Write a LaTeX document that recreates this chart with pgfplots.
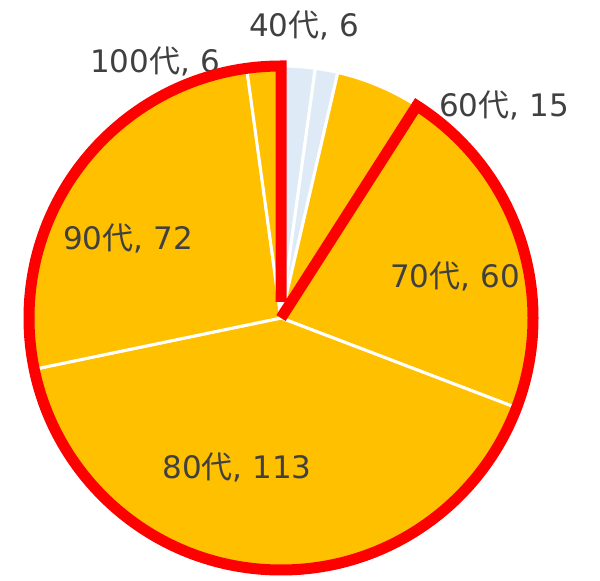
\documentclass[border=0pt]{standalone}
\usepackage{fontspec}
\setmainfont{DejaVu Sans}
\newfontfamily\cjk{Noto Sans CJK JP}
\usepackage{pgfplots}
\pgfplotsset{compat=1.18}
\usepackage{pgfplotstable}
\definecolor{gold}{HTML}{FFC000}
\definecolor{lblue}{HTML}{DEEBF7}
\definecolor{txt}{HTML}{404040}

% name = age decade (代), value = count
\pgfplotstableread{
name value col lx ly show
40 6 lblue 23 281 1
50 4 lblue 0 0 0
60 15 gold 223 201 1
70 60 gold 174 30 1
80 113 gold -44 -161 1
90 72 gold -153 68 1
100 6 gold -126 245 1
}\pietable

\def\pietotal{0}
\pgfplotsforeachungrouped \i in {0,...,6}{%
  \pgfplotstablegetelem{\i}{value}\of\pietable
  \pgfmathsetmacro{\pietotal}{\pietotal+\pgfplotsretval}%
}
\def\piecum{0}
\pgfplotsforeachungrouped \i in {0,...,6}{%
  \pgfplotstablegetelem{\i}{value}\of\pietable
  \let\pieval\pgfplotsretval
  \expandafter\xdef\csname sV\i\endcsname{\pieval}%
  \pgfmathsetmacro{\pa}{90-\piecum/\pietotal*360}%
  \pgfmathsetmacro{\piecum}{\piecum+\pieval}%
  \pgfmathsetmacro{\pb}{90-\piecum/\pietotal*360}%
  \expandafter\xdef\csname sA\i\endcsname{\pa}%
  \expandafter\xdef\csname sB\i\endcsname{\pb}%
  \pgfplotstablegetelem{\i}{col}\of\pietable
  \expandafter\xdef\csname sC\i\endcsname{\pgfplotsretval}%
  \pgfplotstablegetelem{\i}{name}\of\pietable
  \expandafter\xdef\csname sN\i\endcsname{\pgfplotsretval}%
  \pgfplotstablegetelem{\i}{lx}\of\pietable
  \expandafter\xdef\csname sX\i\endcsname{\pgfplotsretval}%
  \pgfplotstablegetelem{\i}{ly}\of\pietable
  \expandafter\xdef\csname sY\i\endcsname{\pgfplotsretval}%
  \pgfplotstablegetelem{\i}{show}\of\pietable
  \expandafter\xdef\csname sS\i\endcsname{\pgfplotsretval}%
}
\pgfmathsetmacro{\redend}{\csname sA3\endcsname+360}
\def\R{252}

\begin{document}
\begin{tikzpicture}
\begin{axis}[
  hide axis,
  x=1pt, y=1pt,
  xmin=-281, xmax=319, ymin=-263, ymax=318,
  clip=false,
]
\addplot[draw=none, mark=none] coordinates {(-281,-263) (319,318)};
\pgfplotsinvokeforeach{0,...,6}{
  \edef\temp{\noexpand\fill[fill=\csname sC#1\endcsname, draw=white, line width=3pt, line join=round]
    (axis cs:0,0) -- ++(\csname sA#1\endcsname:\R pt)
    arc[start angle=\csname sA#1\endcsname, end angle=\csname sB#1\endcsname, radius=\R pt] -- cycle;}
  \temp
}
\pgfplotsinvokeforeach{0,...,6}{
  \ifnum\csname sS#1\endcsname=1
  \edef\temp{\noexpand\node[anchor=base, text=txt, inner sep=0pt,
     font=\noexpand\fontsize{31}{37}\noexpand\selectfont]
     at (axis cs:\csname sX#1\endcsname,\csname sY#1\endcsname)
     {\csname sN#1\endcsname{\noexpand\cjk 代}, \csname sV#1\endcsname};}
  \temp
  \fi
}
\edef\temp{\noexpand\draw[red, line width=11pt, line join=miter, line cap=butt]
  (axis cs:0,16) -- (axis cs:0,\R) arc[start angle=90, end angle=\redend, radius=\R pt]
  -- (axis cs:0,0);}
\temp
\end{axis}
\pgfresetboundingbox
\useasboundingbox (current axis.south west) rectangle (current axis.north east);
\end{tikzpicture}
\end{document}
